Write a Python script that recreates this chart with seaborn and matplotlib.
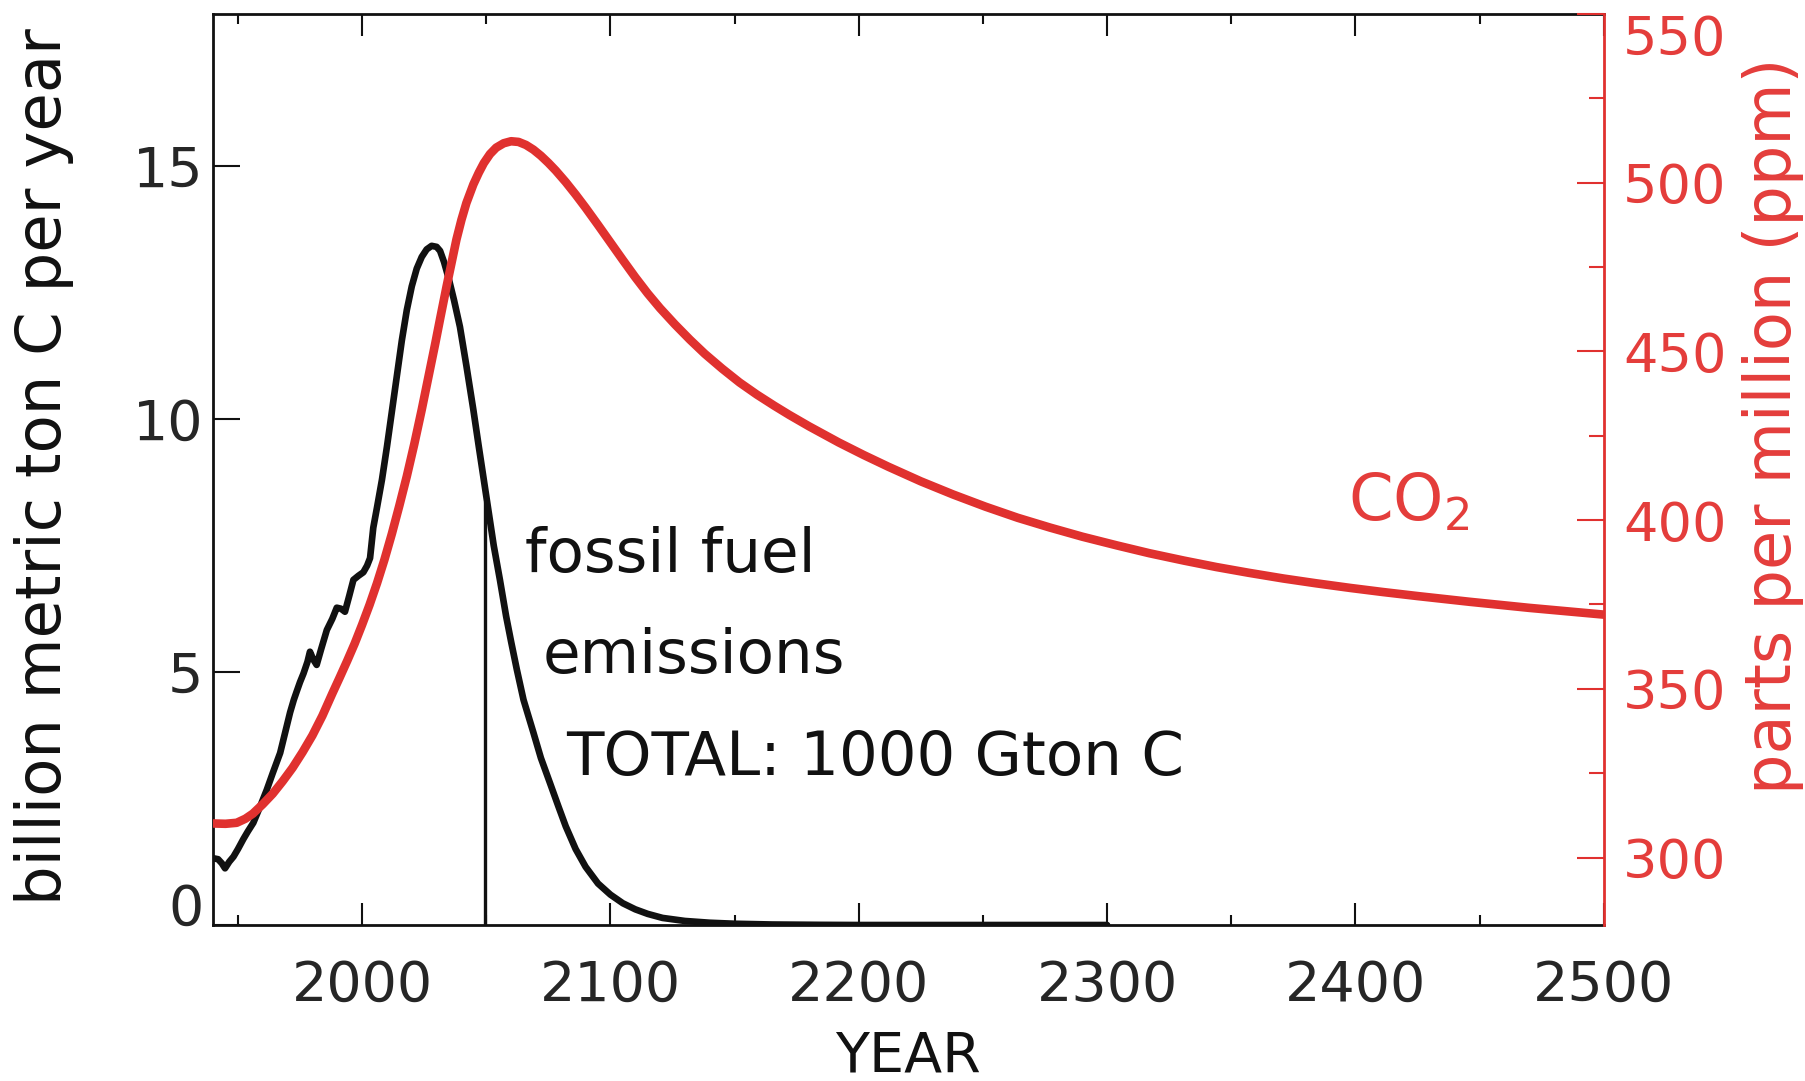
import seaborn as sns
import matplotlib.pyplot as plt
from matplotlib.ticker import MultipleLocator

# fossil fuel emissions, billion metric ton C per year
years_emis = [1940, 1942, 1943.5, 1944.8, 1946.5, 1948.2, 1950, 1952.2, 1954, 1956.2,
              1959, 1961.6, 1964, 1967, 1969, 1971, 1972.5, 1973.7, 1975, 1976.4,
              1978, 1979, 1980.3, 1981.7, 1983.5, 1985.8, 1988, 1989.8, 1991.5, 1993.1,
              1994.8, 1996.5, 1998.5, 2000.5, 2002, 2003.2, 2004.5, 2006, 2008, 2010,
              2012, 2014, 2016, 2018, 2020, 2022, 2024, 2026, 2028, 2030,
              2031.4, 2033, 2035, 2037, 2039.4, 2042, 2044.8, 2047, 2049, 2051,
              2053, 2055.5, 2058, 2060, 2062.3, 2065, 2069, 2072, 2075.7, 2079,
              2082, 2086, 2090, 2095, 2100, 2105, 2110, 2115, 2121, 2130,
              2140, 2150, 2165, 2185, 2200, 2300]
emissions = [1.32, 1.30, 1.22, 1.12, 1.25, 1.35, 1.50, 1.70, 1.85, 2.02,
             2.35, 2.67, 3.00, 3.40, 3.80, 4.20, 4.45, 4.62, 4.80, 4.97,
             5.20, 5.40, 5.25, 5.14, 5.45, 5.83, 6.05, 6.27, 6.25, 6.19,
             6.50, 6.82, 6.90, 6.97, 7.10, 7.25, 7.85, 8.25, 8.80, 9.45,
             10.15, 10.85, 11.55, 12.15, 12.62, 12.97, 13.20, 13.35, 13.42, 13.40,
             13.32, 13.10, 12.75, 12.35, 11.82, 11.05, 10.18, 9.45, 8.80, 8.15,
             7.50, 6.82, 6.10, 5.60, 5.05, 4.45, 3.80, 3.30, 2.80, 2.35,
             1.95, 1.50, 1.15, 0.82, 0.60, 0.43, 0.31, 0.22, 0.14, 0.08,
             0.045, 0.025, 0.01, 0.003, 0.0, 0.0]

# atmospheric CO2, ppm
years_co2 = [1940, 1945, 1949.5, 1953, 1956, 1960, 1964, 1968, 1972, 1976,
             1980, 1984, 1988, 1991, 1994, 1997, 2000, 2003, 2006, 2009,
             2012, 2015, 2018, 2021, 2024, 2027, 2029.5, 2031.5, 2034, 2036,
             2038, 2040, 2042, 2044.8, 2047, 2049, 2051.5, 2054, 2057, 2060,
             2063, 2066, 2069, 2072, 2075, 2078, 2082, 2086, 2090, 2095,
             2100, 2105, 2110, 2115, 2120, 2126, 2132, 2138, 2145, 2152,
             2159, 2166, 2172, 2180, 2192, 2202, 2212, 2225, 2238, 2251,
             2264, 2277, 2290, 2304, 2317, 2331, 2344, 2357, 2371, 2384,
             2398, 2411, 2425, 2446, 2470, 2500]
co2_ppm = [310.1, 310.0, 310.3, 311.5, 313.0, 315.8, 318.9, 322.6, 326.6, 331.2,
           336.2, 342.0, 348.6, 353.4, 358.3, 363.4, 369.0, 374.9, 381.3, 388.3,
           396.0, 404.3, 413.0, 422.5, 432.7, 443.5, 452.5, 460.0, 469.2, 476.2,
           483.2, 489.0, 494.0, 499.5, 503.0, 505.8, 508.5, 510.4, 511.7, 512.3,
           512.1, 511.2, 509.8, 508.0, 505.9, 503.6, 500.2, 496.5, 492.6, 487.5,
           482.3, 477.1, 472.0, 467.2, 462.8, 458.0, 453.5, 449.3, 444.9, 440.8,
           437.2, 433.9, 431.2, 427.8, 423.0, 419.3, 415.8, 411.5, 407.6, 404.0,
           400.7, 397.8, 395.1, 392.5, 390.2, 388.0, 386.1, 384.4, 382.7, 381.3,
           379.9, 378.7, 377.5, 375.8, 374.0, 372.0]

left_ticks = [0, 5, 10, 15]
right_ticks = [300, 350, 400, 450, 500, 550]
marker_year = 2049.5
marker_top = 8.35

black = '#111111'
red = '#e0312f'
red_txt = '#e43d3b'
narrow = ['Liberation Sans Narrow', 'DejaVu Sans']

sns.set_style('ticks')
plt.rcParams['font.family'] = ['DejaVu Sans']
plt.rcParams['mathtext.default'] = 'regular'

fig = plt.figure(figsize=(18.06, 10.81), dpi=100)
ax = fig.add_axes([0.118, 0.1443, 0.770, 0.8427])
ax2 = ax.twinx()

sns.lineplot(x=years_emis, y=emissions, ax=ax, color=black, lw=4.8,
             estimator=None, sort=False)
ax.vlines(marker_year, 0, marker_top, color=black, lw=2.4)
sns.lineplot(x=years_co2, y=co2_ppm, ax=ax2, color=red, lw=6.2,
             estimator=None, sort=False)

# left / bottom axes
ax.set_xlim(1940, 2500)
ax.set_ylim(0, 18)
ax.xaxis.set_major_locator(MultipleLocator(100))
ax.xaxis.set_minor_locator(MultipleLocator(50))
ax.set_yticks(left_ticks)
ax.tick_params(axis='x', which='both', direction='in', top=True, bottom=True,
               width=1.5, color=black, labelsize=40, pad=24)
ax.tick_params(axis='x', which='major', length=15.5)
ax.tick_params(axis='x', which='minor', length=7.5)
ax.tick_params(axis='y', which='major', direction='in', left=True, right=False,
               length=19.5, width=1.5, color=black, labelsize=40, pad=7)
for lab in ax.get_xticklabels():
    lab.set_family(narrow)
ax.get_yticklabels()[0].set_va('baseline')

for side in ['left', 'top', 'bottom']:
    ax.spines[side].set_linewidth(2)
    ax.spines[side].set_color(black)
ax.spines['right'].set_visible(False)

# right axis
ax2.set_ylim(280, 550)
ax2.set_yticks(right_ticks)
ax2.yaxis.set_minor_locator(MultipleLocator(25))
ax2.tick_params(axis='y', which='both', direction='in', color=red,
                labelcolor=red_txt, width=1.5, labelsize=39, pad=14)
ax2.tick_params(axis='y', which='major', length=19.5)
ax2.tick_params(axis='y', which='minor', length=11)
ax2.get_yticklabels()[-1].set_va('top')
for side in ['left', 'top', 'bottom']:
    ax2.spines[side].set_visible(False)
ax2.spines['right'].set_color(red)
ax2.spines['right'].set_linewidth(2)

# axis labels
ax.set_xlabel('YEAR', fontsize=40, family=narrow, color=black)
ax.xaxis.set_label_coords(0.5, -0.144)
ax.xaxis.label.set_va('center')
ax.set_ylabel('billion metric ton C per year', fontsize=45, color=black)
ax.yaxis.set_label_coords(-0.1215, 0.503)
ax.yaxis.label.set_va('center')
ax2.set_ylabel('parts per million (ppm)', fontsize=46, color=red_txt)
ax2.yaxis.set_label_coords(1.122, 0.548)
ax2.yaxis.label.set_va('center')

# annotations
ax.text(2065.6, 6.97, 'fossil fuel', fontsize=44, va='baseline', color=black)
ax.text(2072.5, 4.98, 'emissions', fontsize=44, va='baseline', color=black)
ax.text(2082.1, 2.96, 'TOTAL: 1000 Gton C', fontsize=44, va='baseline', color=black)
ax2.text(2397, 400, 'CO$_2$', fontsize=46, family=narrow, va='baseline', color=red_txt)

plt.savefig('out.png', dpi=100)
